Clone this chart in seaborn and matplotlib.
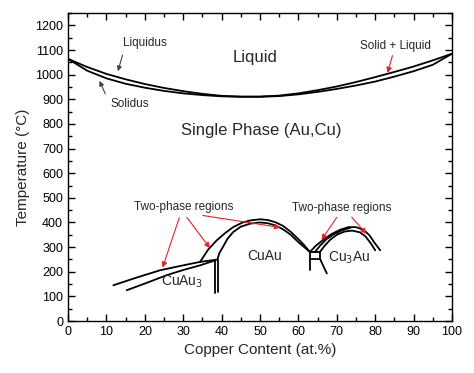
import matplotlib
matplotlib.use('Agg')
import matplotlib.pyplot as plt
import seaborn as sns
import pandas as pd
from matplotlib.ticker import MultipleLocator

# liquidus / solidus (Au-Cu)
liq_x = [0, 5, 10, 15, 20, 25, 30, 35, 40, 45, 50, 55, 60, 65, 70, 75, 80, 85, 90, 95, 100]
liq_y = [1064, 1031, 1003, 981, 962, 946, 933, 922, 914, 911, 911, 915, 924, 937, 952, 970, 990, 1011, 1033, 1058, 1085]
sol_x = [0, 5, 10, 15, 20, 25, 30, 35, 40, 45, 50, 55, 60, 65, 70, 75, 80, 85, 90, 95, 100]
sol_y = [1064, 1016, 985, 963, 947, 934, 924, 917, 912, 910, 910, 913, 920, 930, 942, 956, 972, 992, 1014, 1040, 1085]

# CuAu3 boundaries
cuau3_up_x = [11.8, 18, 24, 30, 34.4, 38.7]
cuau3_up_y = [145, 177, 206, 226, 240, 249]
cuau3_lo_x = [15.3, 20, 25.7, 30, 34.4, 38.3]
cuau3_lo_y = [125, 152, 186, 207, 226, 246]
vert_l_x = [38.3, 38.3]
vert_l_y = [246, 114]
vert_r_x = [39.1, 39.1]
vert_r_y = [248, 119]

# CuAu dome
cuau_out_x = [34.4, 36.5, 38.7, 41, 43, 45.5, 47.4, 50, 52, 54, 56, 58, 60, 61.5, 63]
cuau_out_y = [240, 290, 327, 358, 381, 400, 408, 413, 410, 401, 386, 362, 332, 308, 280]
cuau_in_x = [38.9, 39.4, 40.4, 41.5, 43, 45, 47.4, 50, 52, 54, 56, 58, 60, 61.5, 63]
cuau_in_y = [249, 275, 302, 333, 361, 383, 395, 400, 397, 388, 372, 350, 320, 300, 280]

# two-phase box near 63-67 %
box_x = [63, 63, 65.6, 65.6, 63]
box_y = [206, 280, 280, 253, 253]
slant_x = [65.6, 67.4]
slant_y = [253, 193]

# Cu3Au dome
cu3au_out_x = [63, 64.5, 66.5, 68.5, 70.8, 73, 75, 77, 78.5, 79.8, 81.3]
cu3au_out_y = [280, 305, 330, 352, 370, 381, 381, 370, 348, 318, 287]
cu3au_mid_x = [64.3, 65.6, 67.3, 69.3, 71.5, 73.5]
cu3au_mid_y = [280, 305, 332, 353, 369, 378]
cu3au_in_x = [65.6, 66.8, 68.3, 70, 72, 74, 76, 77.5, 79, 80]
cu3au_in_y = [280, 305, 330, 350, 363, 367, 360, 343, 312, 287]

curves = [
    (liq_x, liq_y), (sol_x, sol_y),
    (cuau3_up_x, cuau3_up_y), (cuau3_lo_x, cuau3_lo_y),
    (vert_l_x, vert_l_y), (vert_r_x, vert_r_y),
    (cuau_out_x, cuau_out_y), (cuau_in_x, cuau_in_y),
    (box_x, box_y), (slant_x, slant_y),
    (cu3au_out_x, cu3au_out_y), (cu3au_mid_x, cu3au_mid_y), (cu3au_in_x, cu3au_in_y),
]

sns.set_style('ticks')
plt.rcParams['font.family'] = ['Liberation Sans', 'DejaVu Sans']

fig = plt.figure(figsize=(4.74, 3.73), dpi=100)
ax = fig.add_axes([0.1435, 0.1394, 0.8101, 0.8256])

for cx, cy in curves:
    df = pd.DataFrame({'x': cx, 'y': cy})
    sns.lineplot(data=df, x='x', y='y', sort=False, estimator=None, color='black', lw=1.3, ax=ax)

# region labels
ax.text(48.6, 1070, 'Liquid', fontsize=12, ha='center', va='center')
ax.text(50.3, 772, 'Single Phase (Au,Cu)', fontsize=12, ha='center', va='center')
ax.text(29.6, 159, 'CuAu$_3$', fontsize=10, ha='center', va='center')
ax.text(51.3, 262, 'CuAu', fontsize=10, ha='center', va='center')
ax.text(73.2, 255, 'Cu$_3$Au', fontsize=10, ha='center', va='center')

# liquidus / solidus pointers
gray = dict(arrowstyle='-|>', color='0.25', lw=0.8, mutation_scale=7)
ax.text(20, 1128, 'Liquidus', fontsize=8.5, ha='center', va='center')
ax.annotate('', xy=(12.8, 1003), xytext=(14.4, 1090), arrowprops=gray)
ax.text(16.1, 882, 'Solidus', fontsize=8.5, ha='center', va='center')
ax.annotate('', xy=(7.9, 985), xytext=(10, 912), arrowprops=gray)

red = dict(arrowstyle='-|>', color='#e8202a', lw=0.8, mutation_scale=8)
ax.text(85.2, 1115, 'Solid + Liquid', fontsize=8.5, ha='center', va='center')
ax.annotate('', xy=(83, 996), xytext=(84.7, 1088), arrowprops=red)

ax.text(30, 462, 'Two-phase regions', fontsize=8.5, ha='center', va='center')
ax.annotate('', xy=(24.4, 206), xytext=(29.2, 430), arrowprops=red)
ax.annotate('', xy=(37.4, 287), xytext=(30.5, 430), arrowprops=red)
ax.annotate('', xy=(56, 378), xytext=(34.4, 430), arrowprops=red)

ax.text(71.3, 459, 'Two-phase regions', fontsize=8.5, ha='center', va='center')
ax.annotate('', xy=(65.6, 320), xytext=(70.4, 430), arrowprops=red)
ax.annotate('', xy=(78.2, 345), xytext=(73.4, 430), arrowprops=red)

ax.set_xlim(0, 100)
ax.set_ylim(0, 1250)
ax.xaxis.set_major_locator(MultipleLocator(10))
ax.xaxis.set_minor_locator(MultipleLocator(5))
ax.yaxis.set_major_locator(MultipleLocator(100))
ax.yaxis.set_minor_locator(MultipleLocator(50))
ax.set_yticks(range(0, 1201, 100))
ax.tick_params(which='both', direction='in', top=True, right=True, labelsize=9, width=1, colors='black')
ax.tick_params(which='major', length=5)
ax.tick_params(which='minor', length=3)
for s in ax.spines.values():
    s.set_linewidth(1)
    s.set_color('black')
    s.set_visible(True)
ax.set_xlabel('Copper Content (at.%)', fontsize=11, labelpad=4)
ax.set_ylabel('Temperature (°C)', fontsize=11, labelpad=4)

fig.savefig('out.png', dpi=100)
